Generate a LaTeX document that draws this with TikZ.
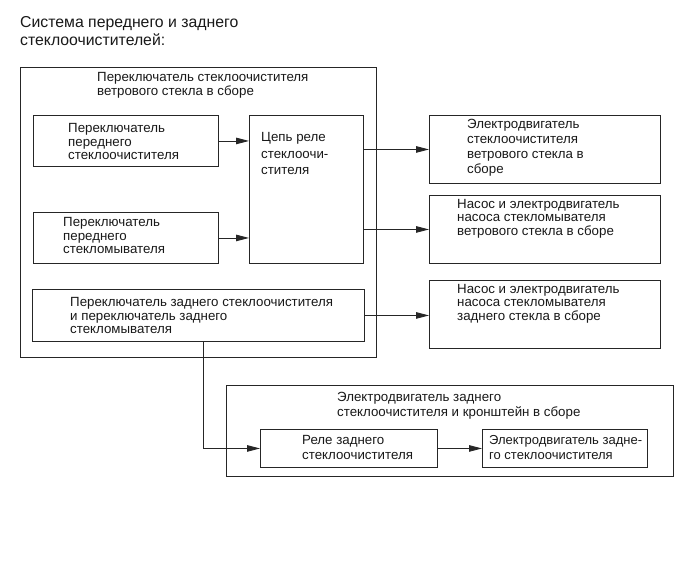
\documentclass[tikz,border=0pt]{standalone}
\usepackage{fontspec}
\setmainfont{Liberation Sans}
\usetikzlibrary{arrows.meta}
\newcommand\bodyfnt{\fontsize{13.3}{13.4}\selectfont}
\begin{document}
\begin{tikzpicture}[x=1pt,y=-1pt,
  box/.style={draw=black!85,line width=0.9pt,inner sep=0pt,anchor=north west},
  txt/.style={inner sep=0pt,anchor=west,align=left,font=\bodyfnt,text=black!90},
  arr/.style={line width=0.9pt,draw=black!85,-{Triangle[length=13pt,width=6.5pt]}},
  ln/.style={line width=0.9pt,draw=black!85}]
\fill[white] (0,0) rectangle (690,562);
\useasboundingbox (0,0) rectangle (690,562);
% title
\node[txt,font=\fontsize{15.8}{18}\selectfont] (title) at (20,31) {Система переднего и заднего\\стеклоочистителей:};
% outer box 1
\node[box,minimum width=356pt,minimum height=290pt] (outer1) at (20,67) {};
\node[txt] (outer1t) at (97,85.5) {Переключатель стеклоочистителя\\ветрового стекла в сборе};
% front wiper switch
\node[box,minimum width=185pt,minimum height=51pt] (fws) at (33,115) {};
\node[txt] (fwst) at (68,141.5) {Переключатель\\переднего\\стеклоочистителя};
% front washer switch
\node[box,minimum width=185pt,minimum height=51pt] (fwa) at (33,212) {};
\node[txt] (fwat) at (63,235.5) {Переключатель\\переднего\\стекломывателя};
% relay circuit
\node[box,minimum width=114pt,minimum height=148pt] (rel) at (249,115) {};
\node[txt,font=\fontsize{13.3}{16.6}\selectfont] (relt) at (261,153.5) {Цепь реле\\стеклоочи-\\стителя};
% rear switch
\node[box,minimum width=332pt,minimum height=52pt] (rsw) at (32,289) {};
\node[txt] (rswt) at (70,315.5) {Переключатель заднего стеклоочистителя\\и переключатель заднего\\стекломывателя};
% right boxes
\node[box,minimum width=231pt,minimum height=68pt] (r1) at (429,115) {};
\node[txt,font=\fontsize{13.3}{15}\selectfont] (r1t) at (467,147.5) {Электродвигатель\\стеклоочистителя\\ветрового стекла в\\сборе};
\node[box,minimum width=231pt,minimum height=68pt] (r2) at (429,195) {};
\node[txt] (r2t) at (457,218.5) {Насос и электродвигатель\\насоса стекломывателя\\ветрового стекла в сборе};
\node[box,minimum width=231pt,minimum height=68pt] (r3) at (429,280) {};
\node[txt] (r3t) at (457,303.5) {Насос и электродвигатель\\насоса стекломывателя\\заднего стекла в сборе};
% outer box 2
\node[box,minimum width=447pt,minimum height=91pt] (outer2) at (226,385) {};
\node[txt,font=\fontsize{13.3}{15}\selectfont] (outer2t) at (337,405.5) {Электродвигатель заднего\\стеклоочистителя и кронштейн в сборе};
\node[box,minimum width=177pt,minimum height=38pt] (rrel) at (260,429) {};
\node[txt,font=\fontsize{13.3}{15}\selectfont] (rrelt) at (302,447.5) {Реле заднего\\стеклоочистителя};
\node[box,minimum width=165pt,minimum height=38pt] (mot) at (482,429) {};
\node[txt,font=\fontsize{13}{15}\selectfont] (mott) at (489,447.5) {Электродвигатель задне-\\го стеклоочистителя};
% connectors
\draw[arr] (fws.east) -- (rel.west |- fws.east);
\draw[arr] (fwa.east) -- (rel.west |- fwa.east);
\draw[arr] (rel.east |- r1.west) -- (r1.west);
\draw[arr] (rel.east |- r2.west) -- (r2.west);
\draw[arr] (rsw.east) -- (r3.west |- rsw.east);
\draw[arr] ([xshift=5pt]rsw.south) |- (rrel.west);
\draw[arr] (rrel.east) -- (mot.west);
\end{tikzpicture}
\end{document}
